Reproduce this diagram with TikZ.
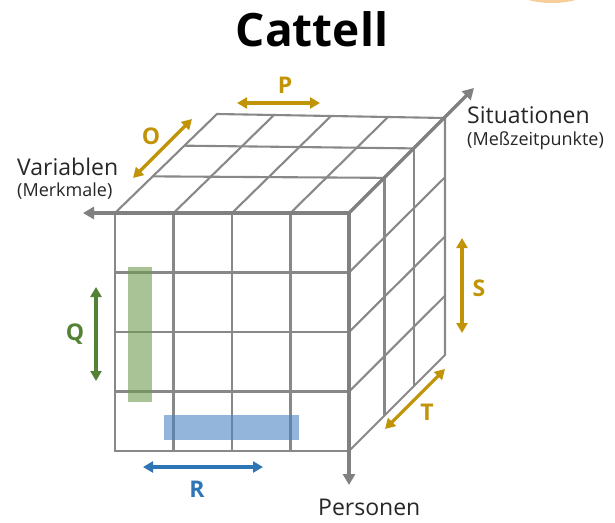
\documentclass[tikz,border=0pt]{standalone}
\usepackage{fontspec}
\setmainfont{Open Sans}
\usetikzlibrary{arrows.meta,calc}
\definecolor{gridgray}{RGB}{136,136,136}
\definecolor{axisgray}{RGB}{128,128,128}
\definecolor{gold}{RGB}{193,148,8}
\definecolor{qgreen}{RGB}{84,130,53}
\definecolor{rblue}{RGB}{46,117,182}
\definecolor{gfill}{RGB}{113,155,80}
\definecolor{bfill}{RGB}{75,132,195}
\definecolor{orangeblob}{RGB}{240,165,70}
\tikzset{
  gridline/.style={draw=gridgray, line width=2.1pt},
  axisline/.style={draw=axisgray, line width=3.4pt, -{Triangle[length=11pt,width=12pt]}},
  dbl/.style={line width=3.2pt, {Triangle[length=10pt,width=11pt]}-{Triangle[length=10pt,width=11pt]}},
  lab/.style={font=\fontsize{23}{26}\selectfont, text=black!85, inner sep=0pt},
  sublab/.style={font=\fontsize{18}{21}\selectfont, text=black!85, inner sep=0pt},
  letter/.style={font=\fontsize{23}{26}\selectfont\bfseries, inner sep=0pt}
}
\begin{document}
\begin{tikzpicture}[x=1pt,y=-1pt]
\useasboundingbox (0,0) rectangle (615,522);
\clip (0,0) rectangle (615,522);
\fill[orangeblob, opacity=.55] (552,-11) ellipse [x radius=38, y radius=14];

% title
\node[font=\fontsize{46}{50}\selectfont\bfseries, anchor=base, inner sep=0pt] (title) at (312,46) {Cattell};

% cube corners
\coordinate (FL) at (115,213);
\coordinate (FR) at (349,213);
\coordinate (BR) at (445,118);
\coordinate (BL) at (217,114);
\coordinate (FB) at (349,451);
\coordinate (BB) at (445,355);
\coordinate (DL) at (115,451);

% front face
\draw[gridline] (FL) rectangle (FB);
\foreach \t in {0.25,0.5,0.75}{
  \draw[gridline] ($(FL)!\t!(FR)$) -- ($(DL)!\t!(FB)$);
  \draw[gridline] ($(FL)!\t!(DL)$) -- ($(FR)!\t!(FB)$);
}
% top face
\draw[gridline] (FL) -- (BL) -- (BR);
\foreach \t in {0.25,0.5,0.75}{
  \draw[gridline] ($(FL)!\t!(FR)$) -- ($(BL)!\t!(BR)$);
}
\foreach \s in {0.37,0.68}{
  \draw[gridline] ($(FL)!\s!(BL)$) -- ($(FR)!\s!(BR)$);
}
% right face
\draw[gridline] (BR) -- (BB) -- (FB);
\foreach \s in {0.37,0.68}{
  \draw[gridline] ($(FR)!\s!(BR)$) -- ($(FB)!\s!(BB)$);
}
\foreach \t in {0.25,0.5,0.75}{
  \draw[gridline] ($(FR)!\t!(FB)$) -- ($(BR)!\t!(BB)$);
}

% highlights
\fill[gfill, fill opacity=.6] (128,267) rectangle (152,402);
\fill[bfill, fill opacity=.6] (164,415) rectangle (299,440);

% axes
\coordinate (VarEnd) at (83,213);
\coordinate (SitEnd) at (474,88);
\coordinate (PerEnd) at (349,485);
\draw[axisline] (FR) -- (VarEnd);
\draw[axisline] (FR) -- (SitEnd);
\draw[axisline] (FR) -- (PerEnd);

% axis labels
\node[lab, anchor=base west] (var) at (17,175) {Variablen};
\node[sublab, anchor=base west] (merk) at (17,196) {(Merkmale)};
\node[lab, anchor=base west] (sit) at (467,123) {Situationen};
\node[sublab, anchor=base west] (mess) at (467,145) {(Meßzeitpunkte)};
\node[lab, anchor=base west] (pers) at (318,515) {Personen};

% double arrows
\coordinate (P1) at (237,103); \coordinate (P2) at (320,103);
\coordinate (O1) at (133,178); \coordinate (O2) at (192,119);
\coordinate (Q1) at (96,287);  \coordinate (Q2) at (96,381);
\coordinate (R1) at (143,467); \coordinate (R2) at (263,467);
\coordinate (S1) at (462,238); \coordinate (S2) at (462,333);
\coordinate (T1) at (385,429); \coordinate (T2) at (445,369);
\draw[dbl, gold] (P1) -- (P2);
\draw[dbl, gold] (O1) -- (O2);
\draw[dbl, qgreen] (Q1) -- (Q2);
\draw[dbl, rblue] (R1) -- (R2);
\draw[dbl, gold] (S1) -- (S2);
\draw[dbl, gold] (T1) -- (T2);

% letters
\node[letter, text=gold] (Plab) at (285,85) {P};
\node[letter, text=gold] (Olab) at (151,136) {O};
\node[letter, text=qgreen] (Qlab) at (75,334) {Q};
\node[letter, text=rblue] (Rlab) at (197,489) {R};
\node[letter, text=gold] (Slab) at (479,288) {S};
\node[letter, text=gold] (Tlab) at (427,412) {T};
\end{tikzpicture}
\end{document}
